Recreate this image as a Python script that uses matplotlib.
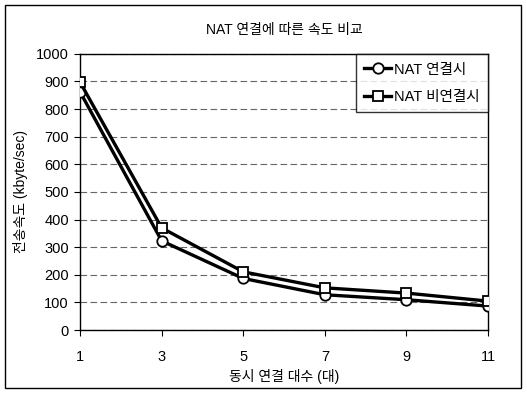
import matplotlib
matplotlib.use("Agg")
import matplotlib.pyplot as plt
from matplotlib.patches import Rectangle

plt.rcParams['font.family'] = ['Liberation Sans', 'Noto Sans CJK KR', 'DejaVu Sans']

# data
connections = [1, 3, 5, 7, 9, 11]
nat_on = [862, 323, 187, 128, 110, 87]      # NAT 연결시
nat_off = [897, 370, 211, 153, 134, 105]    # NAT 비연결시

fig = plt.figure(figsize=(5.27, 3.93), dpi=100)
ax = fig.add_axes([0.152, 0.160, 0.774, 0.703])

ax.plot(connections, nat_on, color='black', lw=2.4, marker='o', ms=7.5,
        mfc='white', mec='black', mew=1.3, label='NAT 연결시', zorder=3)
ax.plot(connections, nat_off, color='black', lw=2.4, marker='s', ms=7.5,
        mfc='white', mec='black', mew=1.3, label='NAT 비연결시', zorder=3)

ax.set_xlim(1, 11)
ax.set_ylim(0, 1000)
ax.set_xticks(connections)
ax.set_yticks(range(0, 1001, 100))
ax.tick_params(labelsize=10.5, length=4, direction='out', pad=10)
ax.tick_params(axis='y', pad=4)
ax.yaxis.grid(True, color='#666666', lw=0.8, ls=(0, (6, 3)))
ax.set_axisbelow(True)
for s in ax.spines.values():
    s.set_linewidth(1.0)

ax.set_title('NAT 연결에 따른 속도 비교', fontsize=10, pad=14)
ax.set_xlabel('동시 연결 대수 (대)', fontsize=10, labelpad=4)
ax.set_ylabel('전송속도 (kbyte/sec)', fontsize=10, labelpad=6)

leg = ax.legend(loc='upper right', fontsize=10.5, frameon=True, fancybox=False,
                borderaxespad=0, handlelength=1.8, handletextpad=0.2,
                borderpad=0.6, labelspacing=0.9)
leg.get_frame().set_edgecolor('black')
leg.get_frame().set_linewidth(1.0)

# border around the whole chart
fig.patches.append(Rectangle((0.01, 0.012), 0.978, 0.975, transform=fig.transFigure,
                             fill=False, edgecolor='black', lw=1.0))

fig.savefig('out.png', dpi=100)
